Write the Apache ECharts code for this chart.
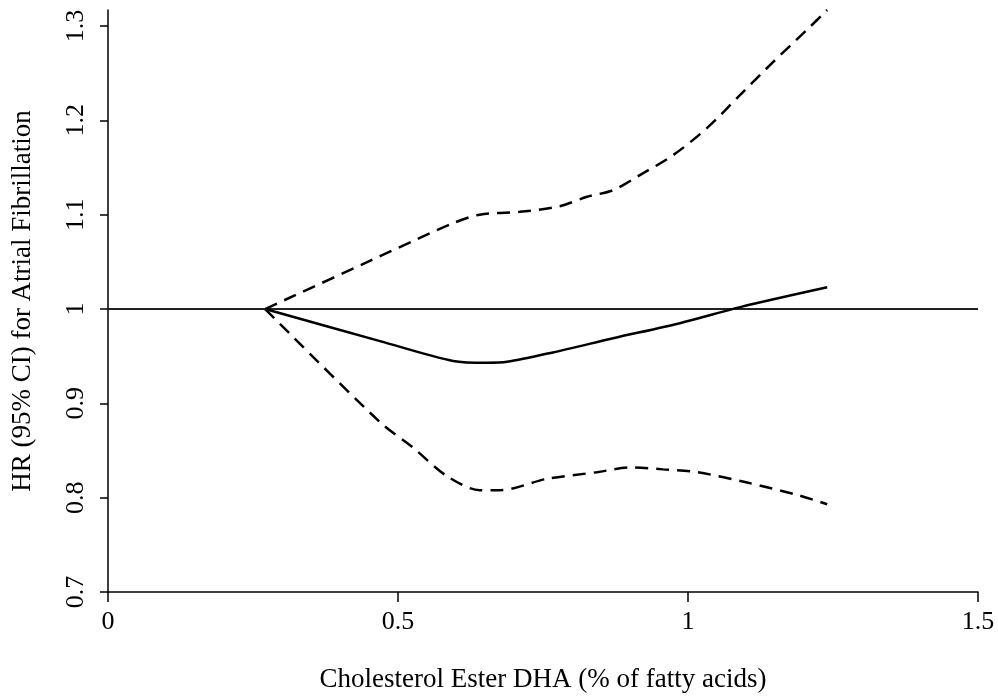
<!DOCTYPE html>
<html>
<head>
<meta charset="utf-8">
<script src="https://cdn.jsdelivr.net/npm/echarts@6/dist/echarts.min.js"></script>
<style>html,body{margin:0;padding:0;background:#fff}#c{width:998px;height:698px}</style>
</head>
<body>
<div id="c"></div>
<script>
const xTicks = [0, 0.5, 1, 1.5];
const yTicks = [0.7, 0.8, 0.9, 1.0, 1.1, 1.2, 1.3];

const hrX = [0.271, 0.469, 0.595, 0.653, 0.688, 0.767, 0.871, 0.986, 1.090, 1.240];
const hrY = [1.000, 0.966, 0.945, 0.943, 0.944, 0.954, 0.969, 0.985, 1.002, 1.023];

const upX = [0.271, 0.469, 0.526, 0.595, 0.641, 0.710, 0.779, 0.826, 0.871, 0.917, 0.974, 1.033, 1.090, 1.147, 1.205, 1.240];
const upY = [1.000, 1.056, 1.072, 1.091, 1.100, 1.103, 1.109, 1.119, 1.126, 1.142, 1.163, 1.192, 1.227, 1.262, 1.296, 1.317];

const loX = [0.271, 0.469, 0.526, 0.584, 0.641, 0.676, 0.757, 0.843, 0.900, 0.957, 1.016, 1.102, 1.188, 1.240];
const loY = [1.000, 0.880, 0.853, 0.823, 0.808, 0.808, 0.820, 0.827, 0.832, 0.830, 0.827, 0.816, 0.803, 0.793];

const refX = [0, 1.5];
const refY = [1, 1];

const zip = (a, b) => a.map((v, i) => [v, b[i]]);
const font = '"Liberation Serif", "DejaVu Serif", serif';

const chart = echarts.init(document.getElementById('c'), null, {renderer: 'canvas'});
chart.setOption({
  animation: false,
  backgroundColor: '#fff',
  grid: {left: 108, right: 20, top: 10, bottom: 105, containLabel: false},
  xAxis: {
    type: 'value', min: 0, max: 1.5, interval: 0.5,
    name: 'Cholesterol Ester DHA (% of fatty acids)',
    nameLocation: 'middle', nameGap: 74,
    nameTextStyle: {fontFamily: font, fontSize: 27, color: '#000'},
    axisLine: {show: true, onZero: false, lineStyle: {color: '#000', width: 1.5}},
    axisTick: {show: true, length: 10, lineStyle: {color: '#000', width: 1.5}, customValues: xTicks},
    axisLabel: {fontFamily: font, fontSize: 26, color: '#000', margin: 17, customValues: xTicks},
    splitLine: {show: false}
  },
  yAxis: {
    type: 'value', min: 0.7, max: 1.317,
    name: 'HR (95% CI) for Atrial Fibrillation',
    nameLocation: 'middle', nameGap: 72, nameRotate: 90,
    nameTextStyle: {fontFamily: font, fontSize: 27, color: '#000'},
    axisLine: {show: true, onZero: false, lineStyle: {color: '#000', width: 1.5}},
    axisTick: {show: true, length: 8, lineStyle: {color: '#000', width: 1.5}, customValues: yTicks},
    axisLabel: {fontFamily: font, fontSize: 26, color: '#000', margin: 19, rotate: 90, customValues: yTicks,
      formatter: v => String(Math.round(v * 10) / 10)},
    splitLine: {show: false}
  },
  series: [
    {type: 'line', data: zip(refX, refY), symbol: 'none', lineStyle: {color: '#222', width: 2}, z: 1},
    {type: 'line', data: zip(hrX, hrY), symbol: 'none', smooth: 0.3, lineStyle: {color: '#000', width: 2.5}, z: 3},
    {type: 'line', data: zip(upX, upY), symbol: 'none', smooth: 0.3, lineStyle: {color: '#000', width: 2.5, type: [13, 8]}, z: 2},
    {type: 'line', data: zip(loX, loY), symbol: 'none', smooth: 0.3, lineStyle: {color: '#000', width: 2.5, type: [13, 8]}, z: 2}
  ]
});
</script>
</body>
</html>
